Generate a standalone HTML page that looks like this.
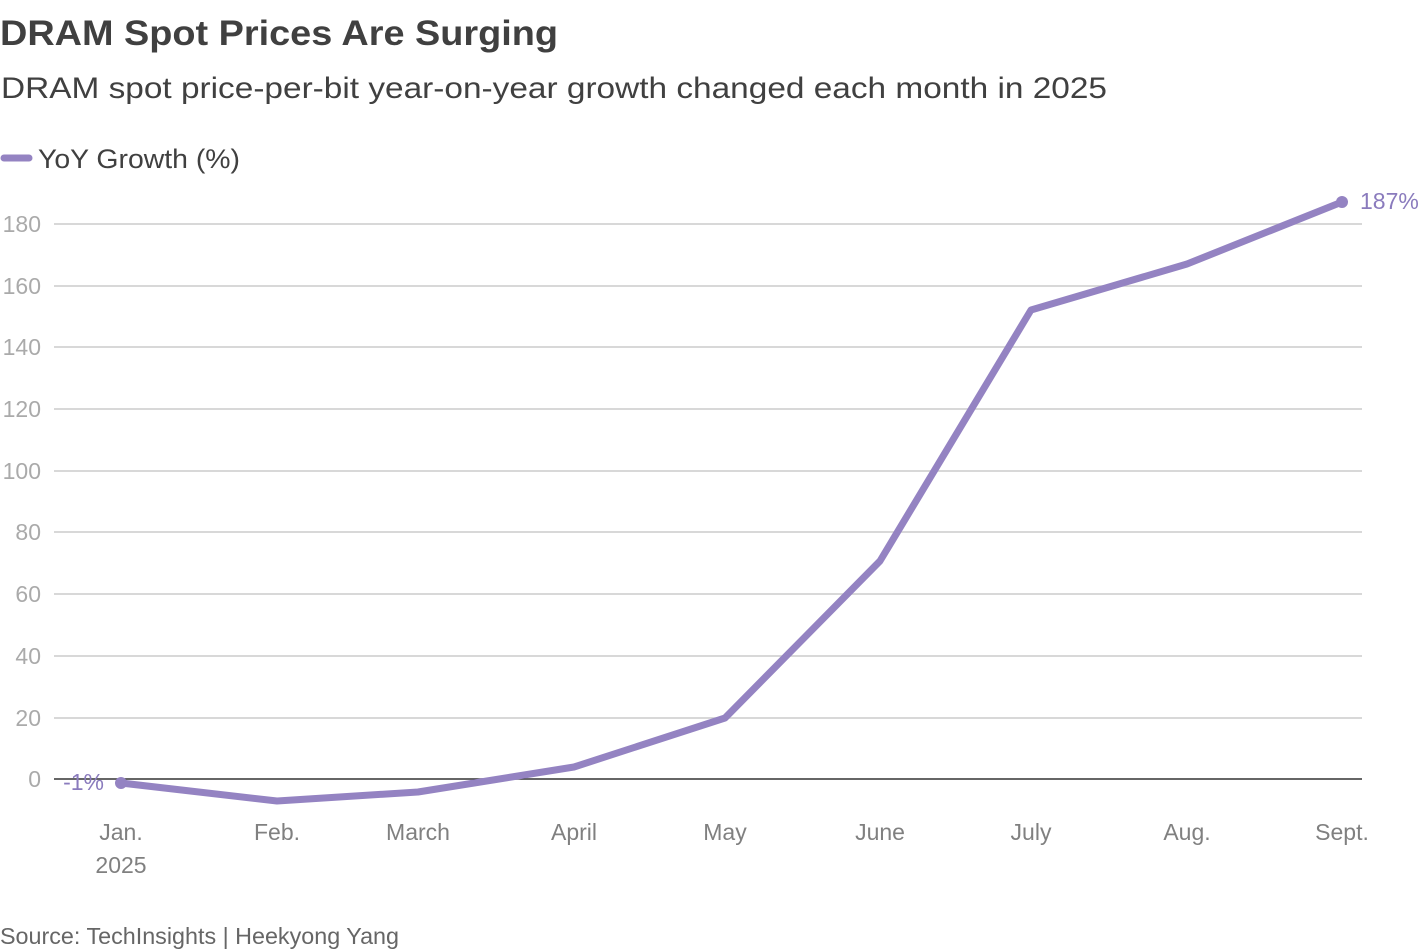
<!DOCTYPE html>
<html><head><meta charset="utf-8"><style>
html,body{margin:0;padding:0;background:#fff;}
svg{display:block;font-family:"Liberation Sans",sans-serif;}
</style></head><body>
<svg width="1420" height="952" viewBox="0 0 1420 952" xmlns="http://www.w3.org/2000/svg">
<text x="0" y="45" font-size="35" font-weight="bold" fill="#404040" textLength="558" lengthAdjust="spacingAndGlyphs">DRAM Spot Prices Are Surging</text>
<text x="1" y="98" font-size="30" fill="#404040" textLength="1106" lengthAdjust="spacingAndGlyphs">DRAM spot price-per-bit year-on-year growth changed each month in 2025</text>
<line x1="4" y1="158" x2="29" y2="158" stroke="#9483c2" stroke-width="7" stroke-linecap="round"/>
<text x="38" y="168" font-size="27" fill="#404040" textLength="202" lengthAdjust="spacingAndGlyphs">YoY Growth (%)</text>
<g stroke="#cccccc" stroke-width="1.5">
<line x1="54" y1="224" x2="1362" y2="224"/>
<line x1="54" y1="286" x2="1362" y2="286"/>
<line x1="54" y1="347" x2="1362" y2="347"/>
<line x1="54" y1="409" x2="1362" y2="409"/>
<line x1="54" y1="471" x2="1362" y2="471"/>
<line x1="54" y1="532" x2="1362" y2="532"/>
<line x1="54" y1="594" x2="1362" y2="594"/>
<line x1="54" y1="656" x2="1362" y2="656"/>
<line x1="54" y1="718" x2="1362" y2="718"/>
</g>
<line x1="54" y1="779" x2="1362" y2="779" stroke="#333" stroke-width="1.5"/>
<g font-size="23" fill="#aaaaaa" text-anchor="end">
<text x="41" y="232">180</text>
<text x="41" y="294">160</text>
<text x="41" y="355">140</text>
<text x="41" y="417">120</text>
<text x="41" y="479">100</text>
<text x="41" y="540">80</text>
<text x="41" y="602">60</text>
<text x="41" y="664">40</text>
<text x="41" y="726">20</text>
<text x="41" y="787">0</text>
</g>
<g font-size="23" fill="#808080" text-anchor="middle">
<text x="121" y="840">Jan.</text>
<text x="121" y="873">2025</text>
<text x="277" y="840">Feb.</text>
<text x="418" y="840">March</text>
<text x="574" y="840">April</text>
<text x="725" y="840">May</text>
<text x="880" y="840">June</text>
<text x="1031" y="840">July</text>
<text x="1187" y="840">Aug.</text>
<text x="1342" y="840">Sept.</text>
</g>
<polyline points="121,783 277,801 418,792 574,767 725,718 880,561 1031,310 1187,264 1342,202" fill="none" stroke="#9483c2" stroke-width="7" stroke-linejoin="round" stroke-linecap="round"/>
<circle cx="121" cy="783" r="6" fill="#9483c2"/>
<circle cx="1342" cy="202" r="6" fill="#9483c2"/>
<text x="104" y="790" font-size="23" fill="#8a7bbd" text-anchor="end">-1%</text>
<text x="1360" y="209" font-size="23" fill="#8a7bbd">187%</text>
<text x="0" y="944" font-size="23" fill="#666" textLength="399" lengthAdjust="spacingAndGlyphs">Source: TechInsights | Heekyong Yang</text>
</svg>
</body></html>
